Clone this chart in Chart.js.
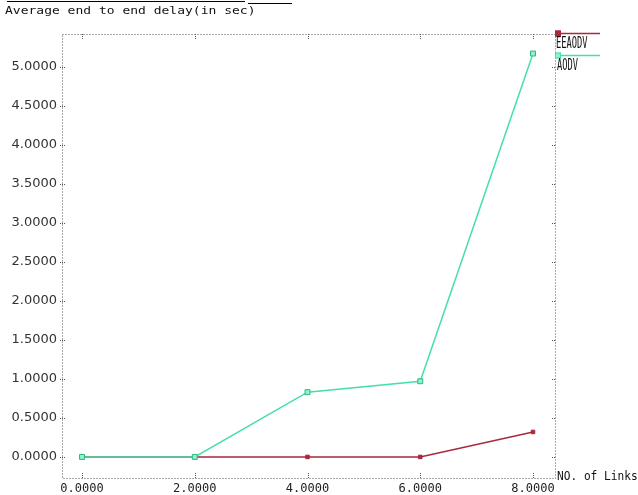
<!DOCTYPE html>
<html>
<head>
<meta charset="utf-8">
<script src="https://cdn.jsdelivr.net/npm/chart.js@4.4.1/dist/chart.umd.min.js"></script>
<style>
  html, body { margin: 0; padding: 0; background: #fff; }
  #wrap { position: relative; width: 638px; height: 495px; overflow: hidden; background: #fff; }
  canvas { position: absolute; left: 0; top: 0; }
  .txt { position: absolute; font-family: "DejaVu Sans Mono", monospace; color: #111; white-space: nowrap; transform-origin: 0 0; }
  .bar { position: absolute; background: #000; height: 1px; }
</style>
</head>
<body>
<div id="wrap">
  <canvas id="c" width="638" height="495"></canvas>
  <div class="bar" style="left:7px; top:1px; width:238px;"></div>
  <div class="bar" style="left:248px; top:3px; width:44px;"></div>
  <div class="txt" style="left:5px; top:4px; font-size:13px; transform:scaleY(0.85);">Average end to end delay(in sec)</div>
  <div class="txt" style="left:556px; top:34px; font-size:15px; transform:scaleX(0.58);">EEAODV</div>
  <div class="txt" style="left:557px; top:56px; font-size:15px; transform:scaleX(0.58);">AODV</div>
  <div class="txt" style="left:557px; top:469px; font-size:12px; transform:scaleX(0.93);">NO. of Links</div>
</div>
<script>
// ---- data ----
const linkCounts   = [0, 2, 4, 6, 8];
const eeaodvDelay  = [0, 0, 0, 0, 0.32];
const aodvDelay    = [0, 0, 0.83, 0.97, 5.17];
const xTickValues  = [0, 2, 4, 6, 8];
const yTickValues  = [0, 0.5, 1, 1.5, 2, 2.5, 3, 3.5, 4, 4.5, 5];
const seriesNames  = ['EEAODV', 'AODV'];

const RED = '#a8283c';
const GREEN = '#45e0a6';

const toPoints = vals => linkCounts.map((x, i) => ({ x: x, y: vals[i] }));

const frame = {
  id: 'frame',
  beforeDatasetsDraw(chart) {
    const { ctx, chartArea: a, scales } = chart;
    ctx.save();
    ctx.strokeStyle = '#555';
    ctx.lineWidth = 1;
    ctx.setLineDash([1, 2]);
    ctx.beginPath();
    ctx.rect(Math.round(a.left) + 0.5, Math.round(a.top) + 0.5, Math.round(a.right - a.left), Math.round(a.bottom - a.top));
    ctx.stroke();
    ctx.setLineDash([1, 1]);
    ctx.beginPath();
    xTickValues.forEach(v => {
      const px = Math.round(scales.x.getPixelForValue(v)) + 0.5;
      ctx.moveTo(px, a.bottom); ctx.lineTo(px, a.bottom - 5);
      ctx.moveTo(px, a.top); ctx.lineTo(px, a.top + 5);
    });
    yTickValues.forEach(v => {
      const py = Math.round(scales.y.getPixelForValue(v)) + 0.5;
      ctx.moveTo(a.left - 2, py); ctx.lineTo(a.left + 4, py);
      ctx.moveTo(a.right, py); ctx.lineTo(a.right - 4, py);
    });
    ctx.stroke();
    ctx.restore();
  }
};

const legendMarks = {
  id: 'legendMarks',
  afterDraw(chart) {
    const { ctx, chartArea: a } = chart;
    ctx.save();
    const rows = [
      { y: a.top - 0.5, color: RED, fill: RED },
      { y: a.top + 21.5, color: GREEN, fill: '#8ff2c8' }
    ];
    rows.forEach(r => {
      ctx.strokeStyle = r.color;
      ctx.lineWidth = 1.5;
      ctx.beginPath();
      ctx.moveTo(a.right + 1, r.y); ctx.lineTo(a.right + 45, r.y);
      ctx.stroke();
      ctx.fillStyle = r.fill;
      ctx.fillRect(a.right, r.y - 3, 6, 6);
      ctx.lineWidth = 1;
      ctx.strokeRect(a.right + 0.5, r.y - 2.5, 5, 5);
    });
    ctx.restore();
  }
};

new Chart(document.getElementById('c'), {
  type: 'line',
  data: {
    datasets: [
      {
        label: seriesNames[0],
        data: toPoints(eeaodvDelay),
        borderColor: RED,
        backgroundColor: RED,
        borderWidth: 1.5,
        pointStyle: 'rect',
        pointRadius: 2.5,
        pointBorderWidth: 1,
        order: 1
      },
      {
        label: seriesNames[1],
        data: toPoints(aodvDelay),
        borderColor: GREEN,
        backgroundColor: '#8ff2c8',
        pointBorderColor: '#2fb884',
        borderWidth: 1.5,
        pointStyle: 'rect',
        pointRadius: 3.5,
        pointBorderWidth: 1,
        order: 0
      }
    ]
  },
  options: {
    responsive: false,
    animation: false,
    devicePixelRatio: 1,
    layout: { padding: { top: 34, right: 83, left: 0, bottom: 0 } },
    plugins: { legend: { display: false }, tooltip: { enabled: false }, title: { display: false } },
    scales: {
      x: {
        type: 'linear',
        min: -0.355,
        max: 8.39,
        afterFit(s) { s.height = 17; },
        afterBuildTicks(s) { s.ticks = xTickValues.map(v => ({ value: v })); },
        grid: { display: false, drawTicks: false, tickLength: 0 },
        border: { display: false },
        ticks: {
          autoSkip: false,
          maxRotation: 0,
          padding: 4,
          color: '#222',
          font: { family: 'DejaVu Sans Mono', size: 12 },
          callback: v => Number(v).toFixed(4)
        }
      },
      y: {
        type: 'linear',
        min: -0.27,
        max: 5.42,
        afterFit(s) { s.width = 62; },
        afterBuildTicks(s) { s.ticks = yTickValues.map(v => ({ value: v })); },
        grid: { display: false, drawTicks: false, tickLength: 0 },
        border: { display: false },
        ticks: {
          autoSkip: false,
          padding: 5,
          color: '#333',
          font: { family: 'DejaVu Sans', size: 13 },
          callback: v => Number(v).toFixed(4)
        }
      }
    }
  },
  plugins: [frame, legendMarks]
});
</script>
</body>
</html>
